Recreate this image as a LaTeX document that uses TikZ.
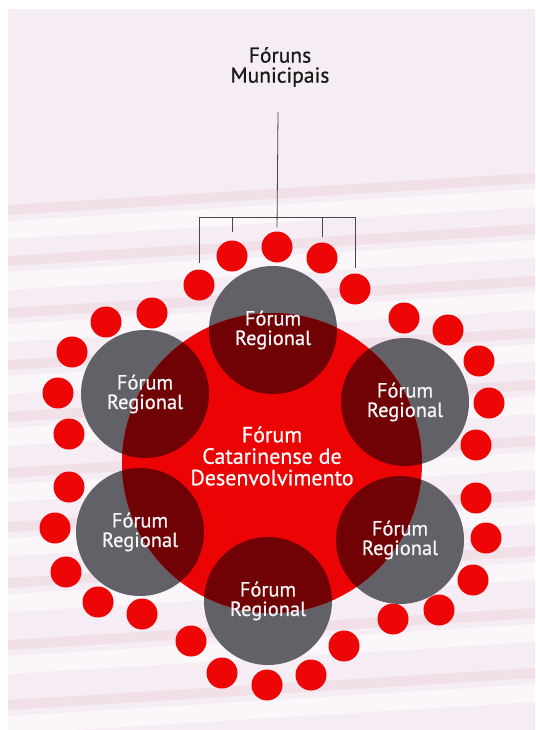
\documentclass[tikz,border=0pt]{standalone}
\usepackage{fontspec}
\setmainfont{PT Sans}
\newfontfamily\labelfont[FakeBold=0.7]{PT Sans}
\definecolor{paper}{RGB}{245,236,244}
\definecolor{paperlight}{RGB}{250,246,250}
\definecolor{paperpink}{RGB}{242,224,233}
\definecolor{dotred}{RGB}{238,6,6}
\definecolor{forumred}{RGB}{236,4,4}
\definecolor{forumgray}{RGB}{98,97,103}
\definecolor{overlapred}{RGB}{112,2,6}
\definecolor{wirecol}{RGB}{70,70,72}
\begin{document}
\begin{tikzpicture}[x=1pt,y=-1pt,
  dot/.style={circle,fill=dotred,minimum size=31pt,inner sep=0pt},
  regcirc/.style={circle,fill=forumgray,minimum size=128pt,inner sep=0pt},
  centrecirc/.style={circle,fill=forumred,minimum size=300pt,inner sep=0pt},
  regtext/.style={text=white!94!gray,align=center,inner sep=0pt,
    font=\labelfont\fontsize{20.5}{19.5}\selectfont},
  centretext/.style={text=white!96!pink,align=center,inner sep=0pt,
    font=\labelfont\fontsize{22}{21.5}\selectfont},
  headtext/.style={text=black!90,align=center,inner sep=0pt,
    font=\labelfont\fontsize{21.5}{20}\selectfont},
  wire/.style={draw=wirecol,line width=0.8pt}]

% page and printed paper
\useasboundingbox (0,0) rectangle (535,730);
\fill[white] (0,0) rectangle (535,730);
\fill[paper] (8,9) rectangle (535,730);
\begin{scope}
  \clip (8,9) rectangle (535,730);
  \foreach \y in {205,256,308,360,412,468,522,578,640,700}{
    \fill[paperpink] (8,\y) -- (535,\y-32) -- (535,\y-22) -- (8,\y+10) -- cycle;
    \fill[paperlight] (8,\y+16) -- (535,\y-16) -- (535,\y+2) -- (8,\y+34) -- cycle;
  }
\end{scope}

% heading
\node[headtext] (mun) at (280,67) {Fóruns\\Municipais};
\coordinate (stemtop) at (278,112);
\coordinate (hub) at (278,217);

% ring of municipal forums
\node[dot] (d1) at (277,247) {};
\node[dot] (d2) at (322,258) {};
\node[dot] (d3) at (355,289) {};
\node[dot] (d4) at (404,318) {};
\node[dot] (d5) at (448,330) {};
\node[dot] (d6) at (479,361) {};
\node[dot] (d7) at (489,403) {};
\node[dot] (d8) at (476,445) {};
\node[dot] (d9) at (476,498) {};
\node[dot] (d10) at (486,538) {};
\node[dot] (d11) at (473,580) {};
\node[dot] (d12) at (439,610) {};
\node[dot] (d13) at (393,619) {};
\node[dot] (d14) at (344,646) {};
\node[dot] (d15) at (311,675) {};
\node[dot] (d16) at (267,685) {};
\node[dot] (d17) at (222,673) {};
\node[dot] (d18) at (191,641) {};
\node[dot] (d19) at (142,614) {};
\node[dot] (d20) at (98,602) {};
\node[dot] (d21) at (66,572) {};
\node[dot] (d22) at (55,528) {};
\node[dot] (d23) at (69,487) {};
\node[dot] (d24) at (69,434) {};
\node[dot] (d25) at (58,393) {};
\node[dot] (d26) at (72,352) {};
\node[dot] (d27) at (106,322) {};
\node[dot] (d28) at (152,313) {};
\node[dot] (d29) at (199,285) {};
\node[dot] (d30) at (232,256) {};

% bracket from the heading down to the top dots
\draw[wire] (d29.north |- hub) -- (d3.north |- hub);
\draw[wire,shorten >=4pt] (stemtop) -- (d1.north);
\foreach \d/\g in {29/6,30/8,2/5,3/5}
  \draw[wire,shorten >=\g pt] (d\d.north |- hub) -- (d\d.north);

% regional forums
\node[regcirc] (r1) at (273,330) {};
\node[regcirc] (r2) at (405,402) {};
\node[regcirc] (r3) at (400,540) {};
\node[regcirc] (r4) at (268,601) {};
\node[regcirc] (r5) at (140,532) {};
\node[regcirc] (r6) at (145,394) {};

% state forum and its overlaps with the regional ones
\node[centrecirc] (cat) at (272,463) {};
\begin{scope}
  \clip (cat.center) circle (150pt);
  \foreach \r in {r1,r2,r3,r4,r5,r6}
    \fill[overlapred] (\r.center) circle (64pt);
\end{scope}

% labels
\foreach \r in {r1,r2,r3,r4,r5,r6}
  \node[regtext] (\r t) at (\r) {Fórum\\Regional};
\node[centretext] (catt) at (272,456) {Fórum\\Catarinense de\\Desenvolvimento};
\end{tikzpicture}
\end{document}
